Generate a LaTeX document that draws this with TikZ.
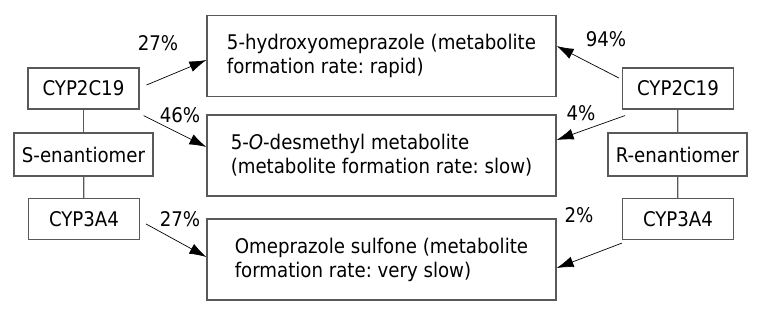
\documentclass[tikz,border=0pt]{standalone}
\usepackage{fontspec}
\setmainfont{DejaVu Sans Condensed}
\usetikzlibrary{arrows.meta}

\begin{document}
\begin{tikzpicture}[x=1pt, y=-1pt,
    enzyme/.style={draw=black!65, line width=1.2pt, minimum width=111pt, minimum height=41pt, inner sep=0pt},
    product/.style={draw=black!65, line width=1.2pt, minimum width=349pt, minimum height=81pt,
      align=left, inner sep=0pt},
    link/.style={draw=black!65, line width=1.2pt},
    route/.style={-{Latex[length=17pt, width=11pt]}, line width=0.7pt},
    pct/.style={inner sep=0pt}]
  \useasboundingbox (0,0) rectangle (768,316);
  \fontsize{20.2pt}{24pt}\selectfont\frenchspacing

  % Metabolite boxes
  \node[product] (hydroxy) at (381.5,56) {5-hydroxyomeprazole (metabolite\\formation rate: rapid)};
  \node[product] (desmethyl) at (381.5,155.5) {5-\textit{O}-desmethyl metabolite\\(metabolite formation rate: slow)};
  \node[product] (sulfone) at (381.5,259.5) {Omeprazole sulfone (metabolite\\formation rate: very slow)};

  % S-enantiomer column
  \node[enzyme] (cypLa) at (83.5,88.5) {CYP2C19};
  \node[enzyme, minimum width=139pt, minimum height=43pt] (senant) at (83.5,154.5) {S-enantiomer};
  \node[enzyme] (cypLb) at (84,219) {CYP3A4};
  \draw[link] (cypLa) -- (senant);
  \draw[link] (senant) -- (cypLb);

  % R-enantiomer column
  \node[enzyme] (cypRa) at (678,88.5) {CYP2C19};
  \node[enzyme, minimum width=139pt, minimum height=43pt] (renant) at (677.5,154.5) {R-enantiomer};
  \node[enzyme] (cypRb) at (678,219) {CYP3A4};
  \draw[link] (cypRa) -- (renant);
  \draw[link] (renant) -- (cypRb);

  % Routes from S-enantiomer
  \draw[route] ([shift={(7,-3.5)}]cypLa.east) -- ([shift={(0,4)}]hydroxy.west);
  \draw[route] ([shift={(4,6)}]cypLa.south east) -- ([shift={(0,-8.5)}]desmethyl.west);
  \draw[route] ([shift={(6,5)}]cypLb.east) -- ([shift={(0,-2.5)}]sulfone.west);

  % Routes from R-enantiomer
  \draw[route] ([shift={(-3,-10.5)}]cypRa.west) -- ([shift={(0,-10)}]hydroxy.east);
  \draw[route] ([shift={(3,6)}]cypRa.south west) -- ([shift={(0,-15.5)}]desmethyl.east);
  \draw[route] ([shift={(0,3)}]cypRb.south west) -- ([shift={(0,8.5)}]sulfone.east);

  % Percentages
  \node[pct] (pSa) at (158,43) {27\%};
  \node[pct] (pSb) at (180,115) {46\%};
  \node[pct] (pSc) at (180,219) {27\%};
  \node[pct] (pRa) at (606,39) {94\%};
  \node[pct] (pRb) at (581,113) {4\%};
  \node[pct] (pRc) at (579,215) {2\%};
\end{tikzpicture}
\end{document}
